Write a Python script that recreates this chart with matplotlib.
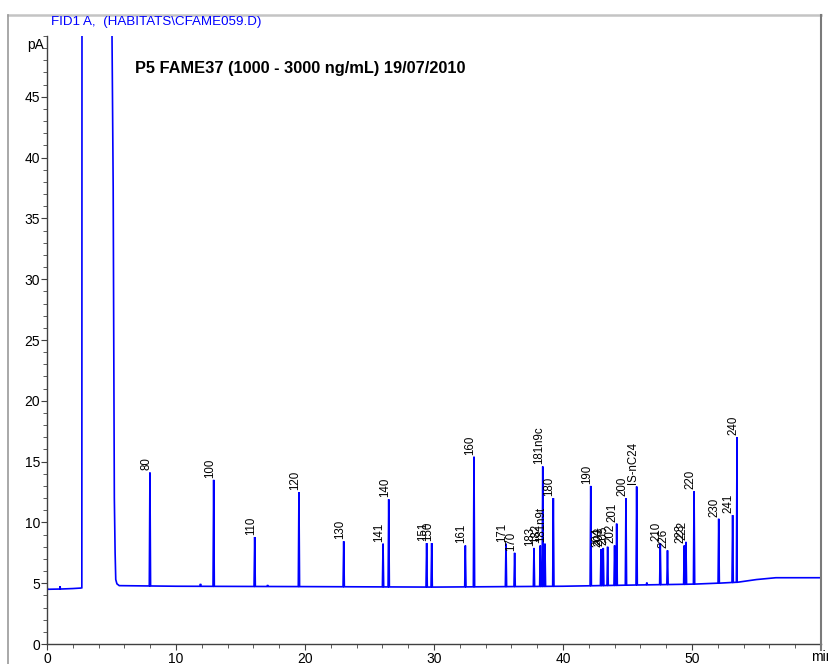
import numpy as np
import matplotlib
matplotlib.use('Agg')
import matplotlib.pyplot as plt
from matplotlib.lines import Line2D

plt.rcParams['font.family'] = ['Liberation Sans', 'DejaVu Sans']

# Baseline drift of the FID signal (min, pA)
base_t = [0.0, 0.05, 1.0, 2.0, 2.6, 5.5, 10.0, 20.0, 30.0, 40.0, 45.0, 50.0, 52.0, 53.5, 55.0, 56.5, 60.0]
base_y = [4.7, 4.5, 4.52, 4.56, 4.6, 4.8, 4.75, 4.72, 4.68, 4.75, 4.84, 4.92, 5.0, 5.08, 5.3, 5.45, 5.45]

# Solvent front (off scale between rise and fall)
solvent_t = [2.62, 2.70, 2.72, 5.03, 5.04, 5.12, 5.13, 5.22, 5.28, 5.33, 5.42, 5.6]
solvent_y = [4.6, 4.62, 80.0, 80.0, 50.0, 38.5, 37.6, 12.0, 7.5, 5.3, 4.95, 4.8]

# Labelled peaks: retention time (min), apex (pA), name
peak_t = [7.98, 12.92, 16.10, 19.53, 23.00, 26.05, 26.49, 29.43, 29.82, 32.43,
          33.10, 35.58, 36.25, 37.75, 38.24, 38.43, 38.60, 39.25, 42.15, 42.95,
          43.12, 43.46, 44.00, 44.16, 44.88, 45.71, 47.54, 48.10, 49.40, 49.53,
          50.16, 52.07, 53.15, 53.49]
peak_h = [14.1, 13.5, 8.8, 12.5, 8.45, 8.25, 11.9, 8.3, 8.3, 8.1,
          15.4, 8.25, 7.5, 7.9, 8.1, 14.6, 8.25, 12.0, 13.0, 7.8,
          7.9, 8.0, 8.1, 9.9, 12.0, 12.95, 8.3, 7.7, 8.1, 8.4,
          12.55, 10.3, 10.6, 17.0]
peak_names = ['80', '100', '110', '120', '130', '141', '140', '151', '150', '161',
              '160', '171', '170', '183', '182', '181n9c', '181n9t', '180', '190', '204',
              '203', '205', '202', '201', '200', 'IS-nC24', '210', '226', '223', '222',
              '220', '230', '241', '240']

# small unlabelled bumps
blip_t = [1.0, 11.9, 17.1, 46.5]
blip_h = [4.75, 4.95, 4.85, 5.05]

W = 829
H = 664
fig = plt.figure(figsize=(W/100, H/100), dpi=100)

def fx(px):
    return px / W

def fy(py):
    return 1 - py / H

ax = fig.add_axes([fx(47), fy(644), fx(821) - fx(47), fy(36) - fy(644)])

# build the trace
pts = list(zip(base_t, base_y))
pts = [p for p in pts if not (2.6 < p[0] < 5.6)]
pts += list(zip(solvent_t, solvent_y))
hw = 0.05
for t, h in zip(peak_t + blip_t, peak_h + blip_h):
    b = np.interp(t, base_t, base_y)
    pts += [(t - hw, b), (t, h), (t + hw, b)]
pts.sort()
tt = np.array([p[0] for p in pts])
yy = np.array([p[1] for p in pts])
ax.plot(tt, yy, color='#0000ff', lw=1.2, solid_joinstyle='miter')

for t, h, name in zip(peak_t, peak_h, peak_names):
    ax.annotate(name, (t, h), xytext=(1.5, 1.5), textcoords='offset points',
                rotation=90, ha='right', va='bottom', fontsize=8.3, color='black')

ax.set_xlim(0, 60)
ax.set_ylim(0, 50)
ax.set_xticks(np.arange(0, 51, 10))
ax.set_xticks(np.arange(0, 61, 2), minor=True)
ax.set_yticks(np.arange(0, 46, 5))
ax.set_yticks(np.arange(0, 51, 1), minor=True)
ax.tick_params(which='both', direction='out', color='#404040', labelsize=10, pad=1)
ax.tick_params(which='major', length=4)
ax.tick_params(which='minor', length=3)
ax.tick_params(axis='x', pad=2)
for s in ['top', 'right']:
    ax.spines[s].set_visible(False)
for s in ['left', 'bottom']:
    ax.spines[s].set_color('#404040')
    ax.spines[s].set_linewidth(1.0)

ax.text(-0.2, 49.3, 'pA', ha='right', va='center', fontsize=10)
ax.text(59.2, -1.1, 'min', ha='left', va='center', fontsize=10, clip_on=False)

# outer frame
fig.add_artist(Line2D([fx(8), fx(821)], [fy(15), fy(15)], color='#c4c4c4', lw=1.8))
fig.add_artist(Line2D([fx(8), fx(8)], [fy(15), fy(664)], color='#9a9a9a', lw=1.2))
fig.add_artist(Line2D([fx(821), fx(821)], [fy(15), fy(650)], color='#7a7a7a', lw=1.5))

fig.text(fx(51), fy(22), 'FID1 A,  (HABITATS\\CFAME059.D)', color='#0000ff',
         fontsize=9.6, ha='left', va='center')
fig.text(fx(135), fy(68), 'P5 FAME37 (1000 - 3000 ng/mL) 19/07/2010',
         fontsize=11.75, fontweight='bold', ha='left', va='center')

fig.savefig('out.png', dpi=100)
